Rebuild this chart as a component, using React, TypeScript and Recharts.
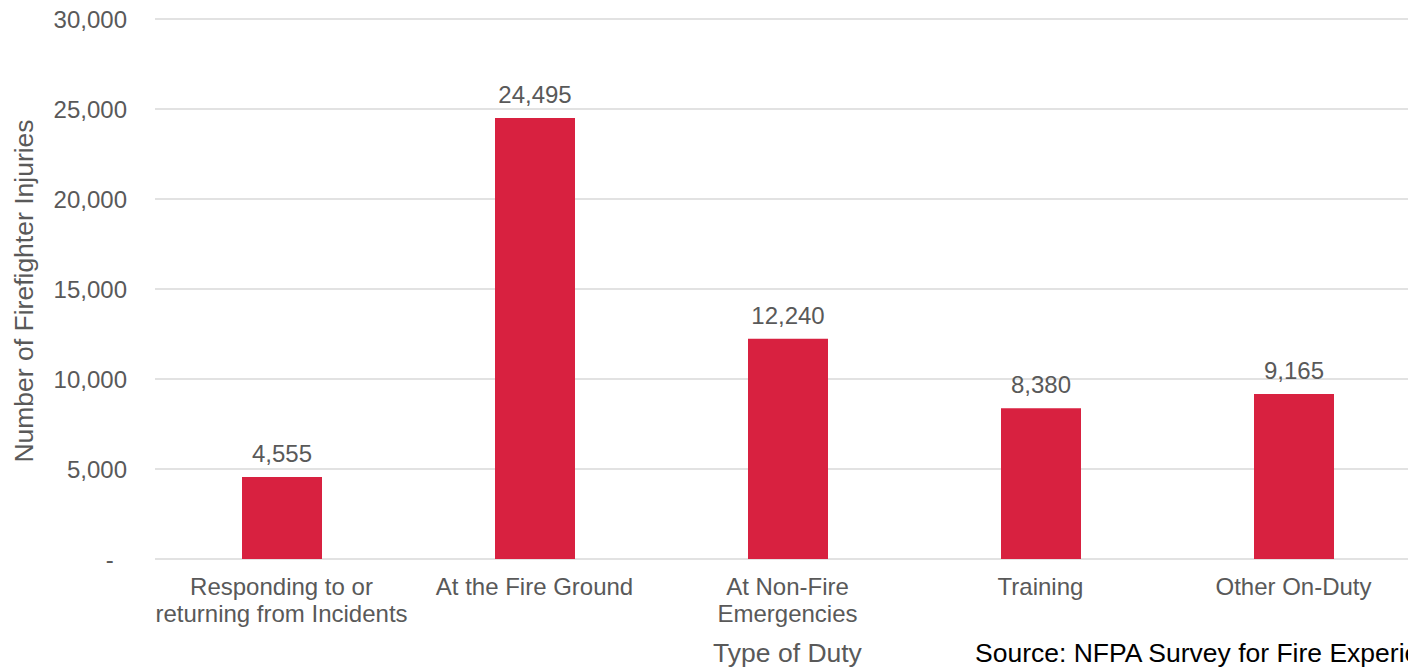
import React from 'react';
import { BarChart, Bar, XAxis, YAxis, CartesianGrid, LabelList, Label } from 'recharts';

const duties = [
  'Responding to or returning from Incidents',
  'At the Fire Ground',
  'At Non-Fire Emergencies',
  'Training',
  'Other On-Duty',
];
const dutyLines = [
  ['Responding to or', 'returning from Incidents'],
  ['At the Fire Ground'],
  ['At Non-Fire', 'Emergencies'],
  ['Training'],
  ['Other On-Duty'],
];
const injuries = [4555, 24495, 12240, 8380, 9165];
const yTicks = [0, 5000, 10000, 15000, 20000, 25000, 30000];

const data = duties.map((duty, i) => ({ duty, injuries: injuries[i] }));

const FONT = '"Liberation Sans", Arial, sans-serif';
const GREY = '#595959';
const fmt = (v: number) => (v === 0 ? '-\u00A0\u00A0' : Number(v).toLocaleString('en-US'));

const DutyTick = (props: any) => {
  const { x, y, payload } = props;
  const idx = duties.indexOf(payload.value);
  const lines = dutyLines[idx] || [payload.value];
  return (
    <text x={x} y={y} textAnchor="middle" fill={GREY} fontSize={24} fontFamily={FONT}>
      {lines.map((l, i) => (
        <tspan key={i} x={x} dy={i === 0 ? 36 : 27}>
          {l}
        </tspan>
      ))}
    </text>
  );
};

const XTitle = (props: any) => {
  const vb = props.viewBox;
  return (
    <g>
      <text x={vb.x + vb.width / 2} y={662} textAnchor="middle" fill={GREY} fontSize={26.5} fontFamily={FONT}>
        Type of Duty
      </text>
      <text x={975} y={662} textAnchor="start" fill="#000000" fontSize={26.5} fontFamily={FONT}>
        Source: NFPA Survey for Fire Experience
      </text>
    </g>
  );
};

const YTitle = (props: any) => {
  const vb = props.viewBox;
  const cx = 33;
  const cy = vb.y + vb.height / 2 + 2;
  return (
    <text
      x={cx}
      y={cy}
      transform={`rotate(-90, ${cx}, ${cy})`}
      textAnchor="middle"
      fill={GREY}
      fontSize={26.5}
      fontFamily={FONT}
    >
      Number of Firefighter Injuries
    </text>
  );
};

const App = () => (
  <div
    style={{
      position: 'fixed',
      top: 0,
      left: 0,
      width: 1408,
      height: 668,
      overflow: 'hidden',
      background: '#ffffff',
      fontFamily: FONT,
    }}
  >
    <BarChart width={1430} height={668} data={data} margin={{ top: 19, right: 10, bottom: 0, left: 0 }}>
      <CartesianGrid vertical={false} stroke="#d9d9d9" strokeWidth={1.5} />
      <XAxis
        dataKey="duty"
        height={109}
        axisLine={false}
        tickLine={false}
        tickSize={0}
        tickMargin={0}
        interval={0}
        tick={<DutyTick />}
      >
        <Label content={<XTitle />} />
      </XAxis>
      <YAxis
        width={155}
        domain={[0, 30000]}
        ticks={yTicks}
        axisLine={false}
        tickLine={false}
        tickSize={0}
        tickMargin={28}
        tickFormatter={fmt}
        tick={{ fill: GREY, fontSize: 24, fontFamily: FONT }}
      >
        <Label content={<YTitle />} />
      </YAxis>
      <Bar dataKey="injuries" fill="#D82140" barSize={80} isAnimationActive={false}>
        <LabelList
          dataKey="injuries"
          position="top"
          offset={15}
          fill={GREY}
          fontSize={24}
          fontFamily={FONT}
          formatter={(v: any) => Number(v).toLocaleString('en-US')}
        />
      </Bar>
    </BarChart>
  </div>
);

export default App;
